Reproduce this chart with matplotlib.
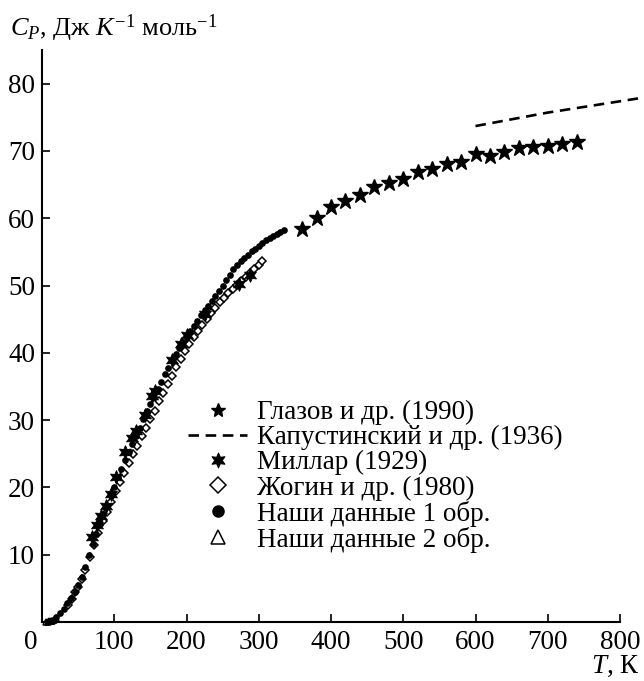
import matplotlib
matplotlib.use("Agg")
import matplotlib.pyplot as plt

plt.rcParams['font.family'] = ['Liberation Serif', 'DejaVu Serif']
plt.rcParams['mathtext.fontset'] = 'custom'
plt.rcParams['mathtext.rm'] = 'Liberation Serif'
plt.rcParams['mathtext.it'] = 'Liberation Serif:italic'

# Глазов и др. (1990)
glazov_t = [360, 380, 400, 420, 440, 460, 480, 500, 520, 540,
            560, 580, 600, 620, 640, 660, 680, 700, 720, 740]
glazov_cp = [58.4, 60.1, 61.7, 62.6, 63.5, 64.7, 65.2, 65.8, 66.9, 67.3,
             68.1, 68.4, 69.5, 69.3, 69.8, 70.5, 70.6, 70.8, 71.1, 71.4]

# Капустинский и др. (1936)
kap_t = [600, 700, 825]
kap_cp = [73.7, 75.7, 77.8]

# Миллар (1929)
millar_t = [69, 76, 82, 88, 95, 103, 115, 124, 130, 142, 152, 157, 180, 193, 201, 225, 272, 288]
millar_cp = [12.7, 14.4, 15.8, 17.2, 19.0, 21.6, 25.3, 27.4, 28.4, 30.8, 33.6, 34.3,
             38.9, 41.3, 42.6, 45.8, 50.3, 51.5]

# Жогин и др. (1980)
zhogin_t = [36, 41, 46, 50, 55, 60, 66, 72, 78, 84, 90, 96, 102, 108, 114, 120, 126, 132,
            138, 144, 150, 156, 162, 168, 174, 180, 186, 192, 198, 204, 210, 216, 222, 228,
            234, 240, 246, 252, 258, 264, 270, 276, 282, 288, 294, 300, 304]
zhogin_cp = [2.5, 3.4, 4.4, 5.2, 6.4, 7.7, 9.6, 11.4, 13.2, 15.0, 16.4, 17.8, 19.4, 20.8,
             22.2, 23.6, 24.9, 26.2, 27.6, 28.9, 30.2, 31.4, 32.8, 34.0, 35.3, 36.6, 37.9,
             39.1, 40.3, 41.3, 42.3, 43.2, 44.1, 45.0, 45.9, 46.7, 47.5, 48.2, 48.9, 49.5,
             50.1, 50.7, 51.3, 51.9, 52.5, 53.1, 53.6]

# Наши данные 1 обр.
our1_t = [10, 15, 20, 25, 30, 35, 40, 45, 50, 55, 60, 65, 70, 75, 80, 85, 90, 95, 100,
          105, 110, 115, 120, 125, 130, 135, 140, 145, 150, 155, 160, 165, 170, 175, 180,
          185, 190, 195, 200, 205, 210, 215, 220, 225, 230, 235, 240, 245, 250, 255, 260,
          265, 270, 275, 280, 285, 290, 295, 300, 305, 310, 315, 320, 325, 330, 335]
our1_cp = [0.1, 0.3, 0.7, 1.3, 2.0, 2.8, 3.6, 4.5, 5.5, 6.7, 8.2, 10.0, 11.6, 13.1, 14.6,
           16.0, 17.3, 18.7, 20.1, 21.5, 22.8, 24.1, 25.3, 26.5, 27.7, 28.9, 30.2, 31.3,
           32.4, 33.5, 34.6, 35.7, 36.8, 37.8, 38.9, 39.8, 40.7, 41.6, 42.4, 43.2, 44.0,
           44.8, 45.6, 46.3, 47.0, 47.7, 48.4, 49.2, 50.0, 50.8, 51.6, 52.4, 53.0, 53.6,
           54.1, 54.6, 55.1, 55.5, 55.9, 56.3, 56.7, 57.0, 57.4, 57.7, 58.0, 58.3]

# Наши данные 2 обр.
our2_t = [6, 8, 10, 12, 14, 16, 18, 20]
our2_cp = [0.03, 0.05, 0.08, 0.12, 0.2, 0.3, 0.4, 0.55]

FS = 19.5

fig = plt.figure(figsize=(6.44, 6.81), dpi=100)
ax = fig.add_axes([42 / 644, 1 - 622 / 681, 578 / 644, 572 / 681])

ax.plot(glazov_t, glazov_cp, ls='none', marker='*', ms=12, color='black',
        label='Глазов и др. (1990)')
ax.plot(kap_t, kap_cp, ls=(0, (4, 2.5)), lw=1.9, color='black', clip_on=False,
        label='Капустинский и др. (1936)')
ax.plot(zhogin_t, zhogin_cp, ls='none', marker='D', ms=4.2, mfc='white', mec='black',
        mew=1.1, label='Жогин и др. (1980)')
ax.plot(our2_t, our2_cp, ls='none', marker='^', ms=5, mfc='white', mec='black',
        mew=1.1, clip_on=False, label='Наши данные 2 обр.')
ax.plot(our1_t, our1_cp, ls='none', marker='o', ms=3.8, color='black', clip_on=False,
        label='Наши данные 1 обр.')
ax.plot(millar_t, millar_cp, ls='none', marker=(6, 1, 0), ms=10, color='black',
        mew=0.6, label='Миллар (1929)')

ax.set_xlim(0, 800)
ax.set_ylim(0, 85)
for s in ['top', 'right']:
    ax.spines[s].set_visible(False)
for s in ['left', 'bottom']:
    ax.spines[s].set_linewidth(1.5)
ax.set_xticks(range(100, 801, 100))
ax.set_yticks(range(10, 81, 10))
ax.tick_params(direction='in', length=6, width=1.2, labelsize=FS)
ax.tick_params(axis='x', pad=6)
ax.tick_params(axis='y', pad=5)
ax.annotate('0', xy=(0, 0), xycoords='data', xytext=(-8, -6), textcoords='offset points',
            ha='center', va='top', fontsize=FS)

handles, labels = ax.get_legend_handles_labels()
order = ['Глазов и др. (1990)', 'Капустинский и др. (1936)', 'Миллар (1929)',
         'Жогин и др. (1980)', 'Наши данные 1 обр.', 'Наши данные 2 обр.']
hmap = dict(zip(labels, handles))
leg = ax.legend([hmap[k] for k in order], order, loc='upper left',
                bbox_to_anchor=(188 / 644, 1 - 400 / 681), bbox_transform=fig.transFigure,
                frameon=False, fontsize=FS, handlelength=2.18, handletextpad=0.37,
                labelspacing=0.0, borderpad=0, borderaxespad=0)
sizes = [10, None, 11, 8, 8, 10]
for h, s in zip(leg.legend_handles, sizes):
    if s:
        h.set_markersize(s)

fig.text(10 / 644, 1 - 36 / 681, r'$C_P$, Дж $K^{-1}$ моль$^{-1}$', fontsize=19,
         va='baseline', ha='left')
fig.text(640 / 644, 1 - 673 / 681, r'$T$, К', fontsize=FS, va='baseline', ha='right')

fig.savefig('out.png', dpi=100)
